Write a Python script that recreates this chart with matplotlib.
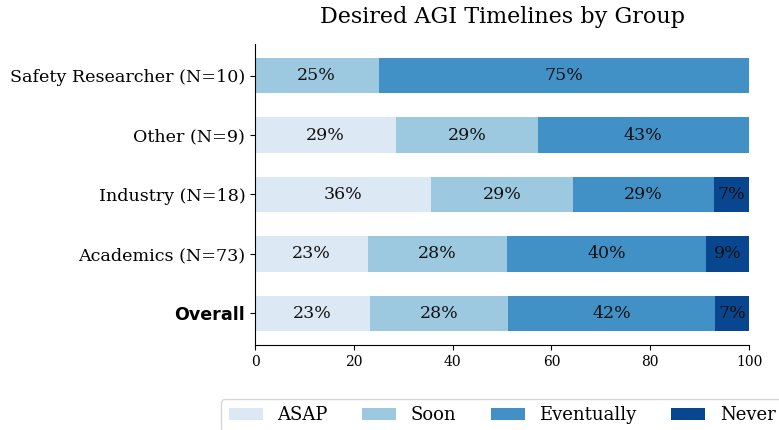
import matplotlib
matplotlib.use("Agg")
import matplotlib.pyplot as plt
import numpy as np

groups = ["Overall", "Academics (N=73)", "Industry (N=18)", "Other (N=9)", "Safety Researcher (N=10)"]
answers = ["ASAP", "Soon", "Eventually", "Never"]
asap = [23.3, 22.9, 35.7, 28.6, 0.0]
soon = [27.9, 28.1, 28.6, 28.6, 25.0]
eventually = [41.9, 40.3, 28.6, 42.8, 75.0]
never = [6.9, 8.7, 7.1, 0.0, 0.0]
colors = ["#dce9f5", "#9dc9e0", "#4191c6", "#08468f"]

plt.rcParams["font.family"] = "DejaVu Serif"
fig = plt.figure(figsize=(7.79, 4.30), dpi=100)
ax = fig.add_axes([255/779, 1-345/430, (749-255)/779, (345-44)/430])

y = np.arange(len(groups))
left = np.zeros(len(groups))
for name, vals, col in zip(answers, [asap, soon, eventually, never], colors):
    vals = np.array(vals)
    ax.barh(y, vals, left=left, height=0.6, color=col, label=name)
    for yi, l, v in zip(y, left, vals):
        if v > 0:
            ax.text(l + v/2, yi, f"{v:.0f}%", ha="center", va="center", fontsize=12.5, color="#111111")
    left += vals

ax.set_yticks(y)
ax.set_yticklabels(groups, fontsize=12.6)
for lab in ax.get_yticklabels():
    if lab.get_text() == "Overall":
        lab.set_fontweight("bold")
        lab.set_family("DejaVu Sans")
ax.set_xlim(0, 100)
ax.set_xticks([0, 20, 40, 60, 80, 100])
ax.tick_params(axis="x", labelsize=10)
ax.spines["top"].set_visible(False)
ax.spines["right"].set_visible(False)
ax.set_title("Desired AGI Timelines by Group", fontsize=16, pad=15)
ax.legend(loc="upper center", bbox_to_anchor=(0.5, -0.15), ncol=4, fontsize=13,
          handlelength=1.9, columnspacing=1.9, frameon=True)

fig.savefig("out.png", dpi=100)
